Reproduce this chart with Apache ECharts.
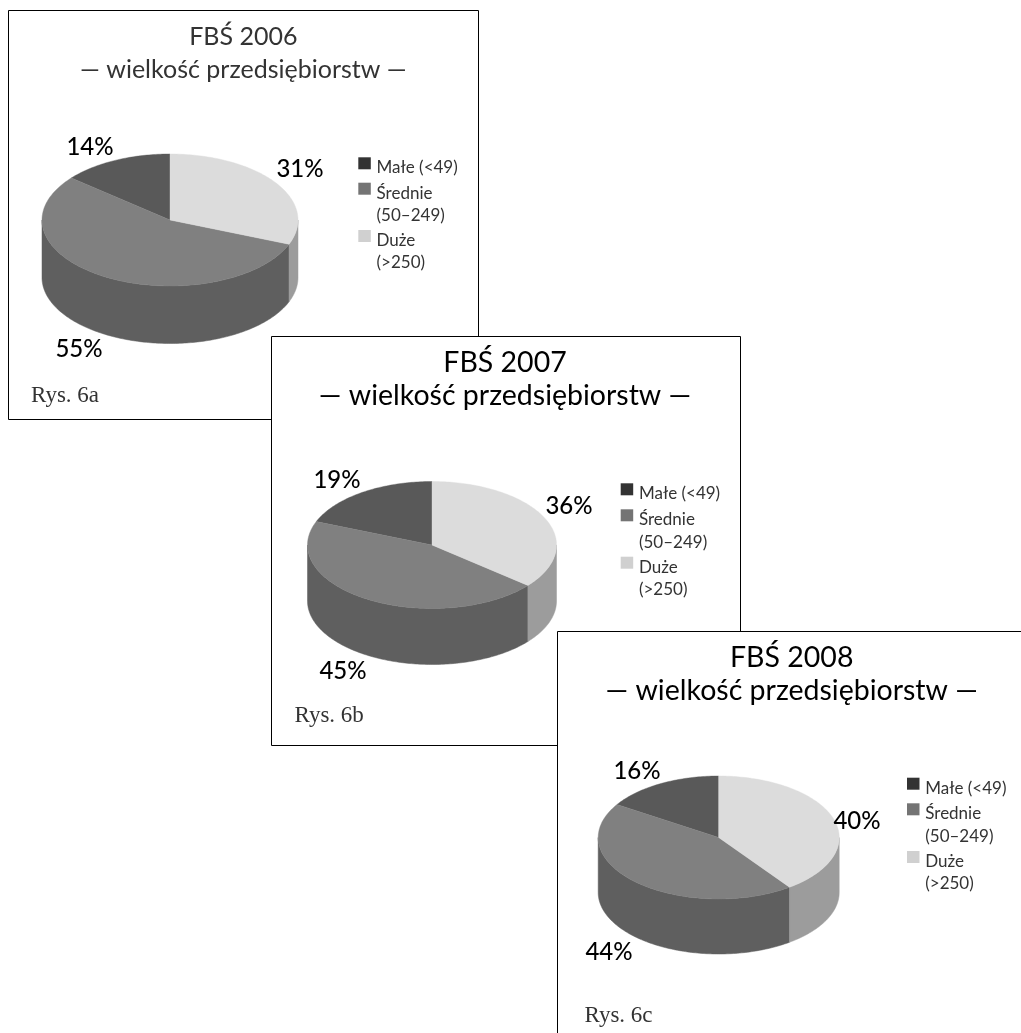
<!DOCTYPE html>
<html><head><meta charset="utf-8">
<style>html,body{margin:0;padding:0;background:#fff}#c{width:1021px;height:1033px}</style>
<script src="https://cdn.jsdelivr.net/npm/echarts@6/dist/echarts.min.js"></script>
</head><body><div id="c"></div>
<script>
const categories = ['Małe (<49)', 'Średnie\n(50–249)', 'Duże\n(>250)'];
const values2006 = [14, 55, 31];
const values2007 = [19, 45, 36];
const values2008 = [16, 44, 40];
const headings = ['FBŚ 2006\n— wielkość przedsiębiorstw —', 'FBŚ 2007\n— wielkość przedsiębiorstw —', 'FBŚ 2008\n— wielkość przedsiębiorstw —'];
const captions = ['Rys. 6a', 'Rys. 6b', 'Rys. 6c'];
const allValues = [values2006, values2007, values2008];

const topColors = ['#595959', '#808080', '#dcdcdc'];
const sideColors = ['#4a4a4a', '#5f5f5f', '#9c9c9c'];
const swatchColors = ['#333333', '#747474', '#d0d0d0'];
const FONT = 'Lato, "Open Sans", sans-serif';
const SWATCH_ICON = 'path://M0 0H12.5V12H0Z M0 21L0 21';

const layout = [
  { box: [8.5, 10.5, 470, 409], cx: 170, cy: 220, rx: 128, ry: 66, depth: 57.5,
    headX: 243.3, headTop: 20.5, headSize: 25, headColor: '#333', headWeight: 400,
    capX: 31, capY: 385, labels: [[90, 147], [79, 349], [300, 169]],
    swX: 358.3, swY: [157.3, 182.7, 230] },
  { box: [271.5, 336.5, 469, 409], cx: 432, cy: 545, rx: 124.5, ry: 63.5, depth: 56,
    headX: 505, headTop: 346.5, headSize: 28.5, headColor: '#000', headWeight: 400,
    capX: 294.5, capY: 705, labels: [[337, 480], [343, 671], [569, 506]],
    swX: 620.7, swY: [483.3, 509.3, 556.7] },
  { box: [557.5, 631.5, 480, 420], cx: 718.7, cy: 837.5, rx: 120.5, ry: 61.5, depth: 55,
    headX: 791.7, headTop: 641.5, headSize: 28.5, headColor: '#000', headWeight: 400,
    capX: 584.5, capY: 1005, labels: [[637, 771], [609, 952], [857, 821]],
    swX: 907, swY: [777.7, 803.3, 851] }
];

const STEP = Math.PI / 180;
function pt(p, a, dy) {
  return [p.cx + p.rx * Math.sin(a), p.cy - p.ry * Math.cos(a) + (dy || 0)];
}
function makeRender(panel, catIdx) {
  return function (params, api) {
    const p = layout[panel];
    const vals = allValues[panel];
    const v = api.value(0);
    // slices run clockwise from 12 o'clock, in reverse category order
    let before = 0;
    for (let i = vals.length - 1; i > catIdx; i--) before += vals[i];
    const a0 = before / 100 * 2 * Math.PI, a1 = (before + v) / 100 * 2 * Math.PI;
    const arc = [];
    for (let a = a0; a < a1; a += STEP) arc.push(pt(p, a));
    arc.push(pt(p, a1));
    const children = [];
    // visible wall: front half of the rim only
    const f0 = Math.max(a0, Math.PI / 2), f1 = Math.min(a1, 3 * Math.PI / 2);
    if (f1 > f0) {
      const up = [], down = [];
      for (let a = f0; a < f1; a += STEP) { up.push(pt(p, a)); down.push(pt(p, a, p.depth)); }
      up.push(pt(p, f1)); down.push(pt(p, f1, p.depth));
      const c = sideColors[catIdx];
      children.push({ type: 'polygon', shape: { points: up.concat(down.reverse()) },
        style: { fill: c, stroke: c, lineWidth: 0.5 } });
    }
    children.push({ type: 'polygon', shape: { points: [[p.cx, p.cy]].concat(arc) },
      style: { fill: topColors[catIdx], stroke: topColors[catIdx], lineWidth: 0.4 } });
    const lab = p.labels[catIdx];
    children.push({ type: 'text', z2: 10, style: { text: v + '%', x: lab[0], y: lab[1], align: 'center',
      verticalAlign: 'middle', fill: '#000', font: '500 24px ' + FONT } });
    return { type: 'group', children };
  };
}

const series = [], legends = [], titles = [], rects = [];
layout.forEach((p, pi) => {
  rects.push({ type: 'rect', z: 0, shape: { x: p.box[0], y: p.box[1], width: p.box[2], height: p.box[3] },
    style: { fill: '#fff', stroke: '#000', lineWidth: 1 } });
  titles.push({ text: headings[pi], left: p.headX, top: p.headTop, textAlign: 'center', padding: 0,
    textStyle: { fontFamily: FONT, fontSize: p.headSize, fontWeight: p.headWeight, color: p.headColor, lineHeight: 33 } });
  titles.push({ text: captions[pi], left: p.capX, top: p.capY, padding: 0,
    textStyle: { fontFamily: '"Liberation Serif", serif', fontSize: 23, fontWeight: 'normal', color: '#333', lineHeight: 22 } });
  categories.forEach((name, ci) => {
    series.push({ type: 'custom', name, coordinateSystem: 'none', data: [[allValues[pi][ci]]],
      renderItem: makeRender(pi, ci), silent: true, animation: false,
      itemStyle: { color: topColors[ci] } });
    const multi = name.indexOf('\n') >= 0;
    legends.push({ left: p.swX, top: p.swY[ci] - (multi ? 23.25 : 0.75), padding: 0, orient: 'vertical',
      itemWidth: 14, itemHeight: 21, itemGap: 0, selectedMode: false,
      data: [{ name, icon: SWATCH_ICON, itemStyle: { color: swatchColors[ci] } }],
      formatter: n => (n.indexOf('\n') >= 0 ? '\n' + n : n),
      textStyle: { fontFamily: FONT, fontSize: 17, color: '#333', lineHeight: 22.5 } });
  });
});

const chart = echarts.init(document.getElementById('c'), null, { renderer: 'canvas' });
chart.setOption({
  animation: false, backgroundColor: '#fff',
  title: titles, legend: legends, series,
  tooltip: { show: false },
  graphic: { elements: rects }
});
</script></body></html>
